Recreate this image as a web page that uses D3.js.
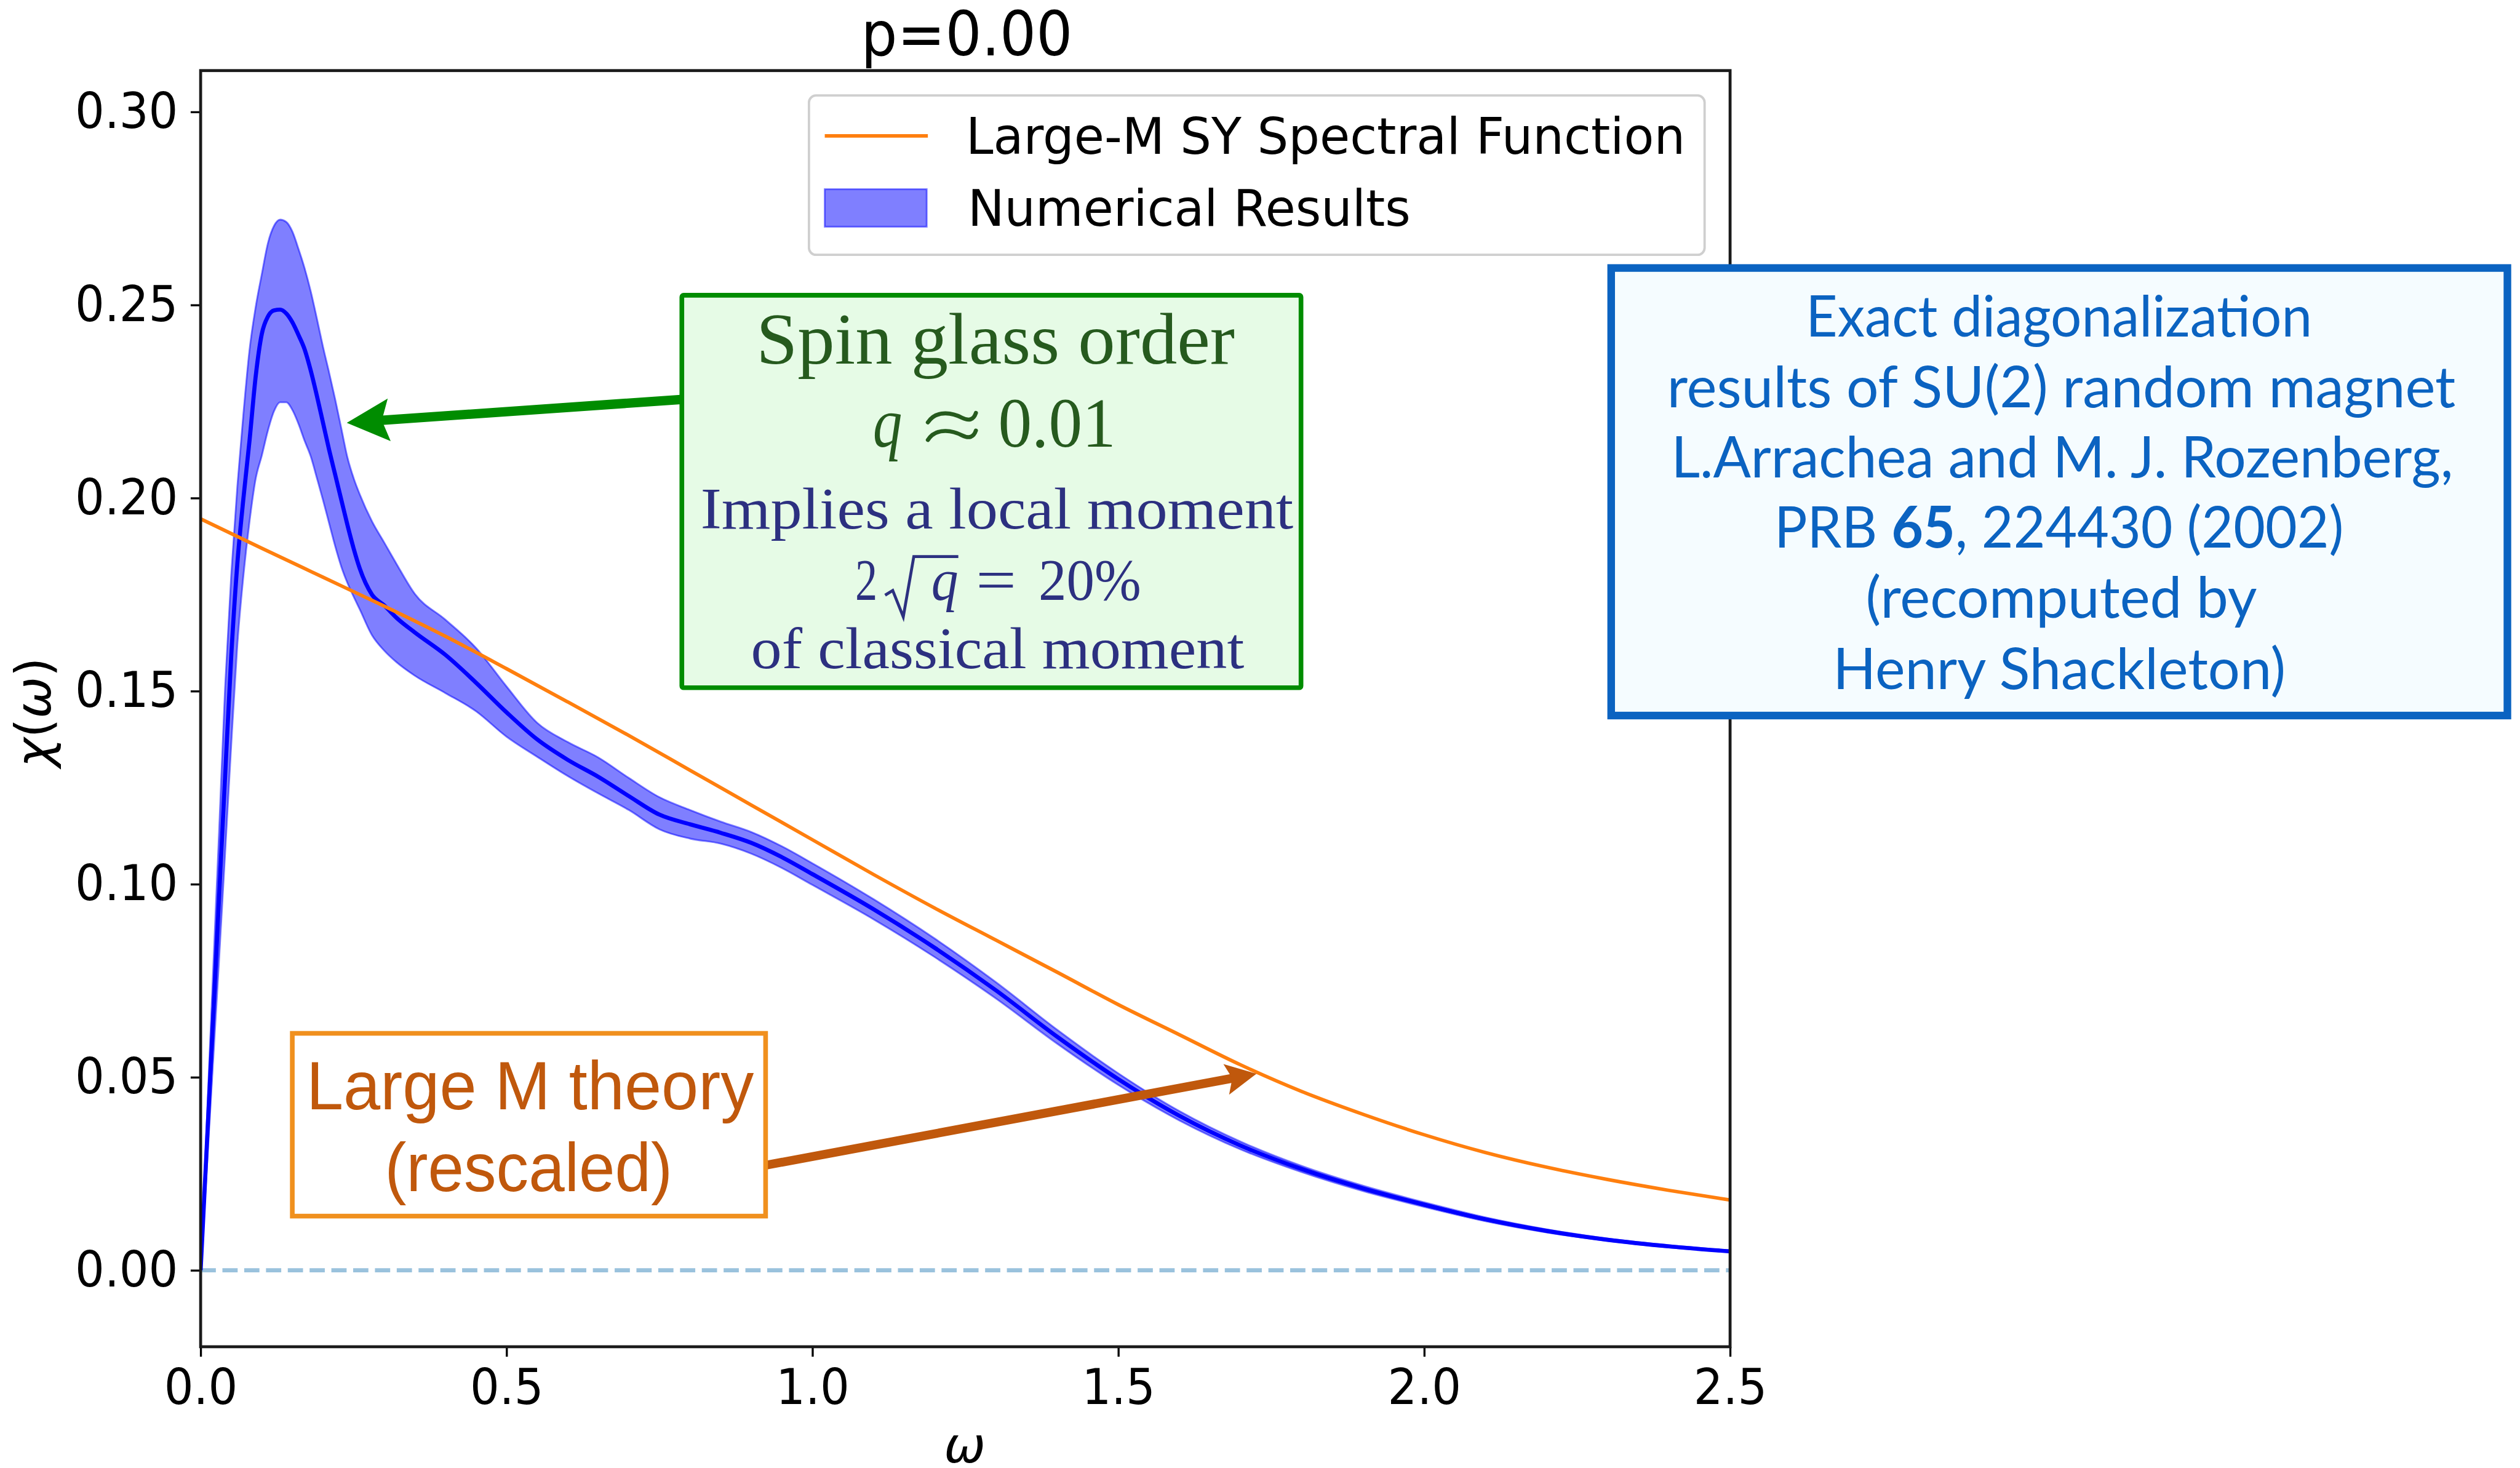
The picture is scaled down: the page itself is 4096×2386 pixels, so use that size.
<!DOCTYPE html>
<html>
<head>
<meta charset="utf-8">
<script src="https://cdn.jsdelivr.net/npm/d3@7"></script>
<style>
  html, body { margin: 0; padding: 0; background: #fff; overflow: hidden; }
</style>
</head>
<body>
<svg id="fig" width="4096" height="2386" viewBox="0 0 4302 2506"></svg>
<script>
// ---- data -------------------------------------------------------------
// frequency grid of the exact-diagonalization result
const omega = [0, 0.01, 0.02, 0.03, 0.04, 0.05, 0.06, 0.07, 0.08, 0.09,
  0.10, 0.11, 0.12, 0.13, 0.14, 0.15, 0.16, 0.17, 0.18, 0.19,
  0.20, 0.21, 0.22, 0.23, 0.24, 0.25, 0.26, 0.28, 0.30, 0.32,
  0.35, 0.40, 0.45, 0.50, 0.55, 0.60, 0.65, 0.70, 0.75, 0.80,
  0.85, 0.90, 0.95, 1.00, 1.10, 1.20, 1.30, 1.40, 1.50, 1.60,
  1.70, 1.80, 1.90, 2.00, 2.10, 2.20, 2.30, 2.40, 2.50];
// disorder-averaged chi(omega)
const chiMean = [0, 0.032, 0.064, 0.096, 0.128, 0.159, 0.183, 0.200, 0.215, 0.2315,
  0.2425, 0.2470, 0.2486, 0.2488, 0.2478, 0.2455, 0.2422, 0.2385, 0.2330, 0.2265,
  0.2195, 0.2125, 0.2060, 0.1995, 0.1930, 0.1870, 0.1818, 0.1750, 0.1722, 0.1690,
  0.1652, 0.1594, 0.1522, 0.1445, 0.1375, 0.1322, 0.1278, 0.1228, 0.1180, 0.1155,
  0.1133, 0.1107, 0.1070, 0.1026, 0.0935, 0.0835, 0.0725, 0.0605, 0.0495, 0.0400,
  0.0323, 0.0262, 0.0212, 0.0170, 0.0132, 0.0102, 0.0079, 0.0062, 0.0049];
// lower and upper edges of the error band
const chiLow = [0, 0.026, 0.053, 0.080, 0.108, 0.136, 0.162, 0.180, 0.194, 0.205,
  0.2110, 0.2175, 0.2225, 0.2248, 0.2248, 0.2228, 0.2192, 0.2148, 0.2108, 0.2052,
  0.1995, 0.1935, 0.1875, 0.1822, 0.1780, 0.1745, 0.1712, 0.1645, 0.1605, 0.1575,
  0.1540, 0.1495, 0.1448, 0.1382, 0.1330, 0.1280, 0.1235, 0.1192, 0.1142, 0.1118,
  0.1105, 0.1079, 0.1042, 0.0998, 0.0909, 0.0811, 0.0704, 0.0587, 0.0480, 0.0388,
  0.0313, 0.0254, 0.0205, 0.0164, 0.0127, 0.0098, 0.0076, 0.0059, 0.0047];
const chiHigh = [0, 0.038, 0.076, 0.113, 0.151, 0.180, 0.203, 0.222, 0.2385, 0.2495,
  0.2580, 0.2660, 0.2705, 0.2721, 0.2715, 0.2690, 0.2645, 0.2595, 0.2535, 0.2465,
  0.2392, 0.2325, 0.2255, 0.2180, 0.2105, 0.2052, 0.2010, 0.1940, 0.1885, 0.1830,
  0.1752, 0.1685, 0.1612, 0.1512, 0.1418, 0.1368, 0.1328, 0.1275, 0.1225, 0.1192,
  0.1162, 0.1135, 0.1098, 0.1054, 0.0961, 0.0859, 0.0746, 0.0623, 0.0510, 0.0412,
  0.0333, 0.0270, 0.0219, 0.0176, 0.0137, 0.0106, 0.0082, 0.0065, 0.0051];
// large-M Sachdev-Ye spectral function (rescaled)
const omegaTheory = [0, 0.1, 0.2, 0.3, 0.4, 0.5, 0.6, 0.7, 0.8, 0.9, 1.0, 1.1, 1.2,
  1.3, 1.4, 1.5, 1.6, 1.7, 1.8, 1.9, 2.0, 2.1, 2.2, 2.3, 2.4, 2.5];
const chiTheory = [0.1946, 0.1870, 0.1795, 0.1720, 0.1642, 0.1558, 0.1472, 0.1385, 0.1295,
  0.1205, 0.1115, 0.1025, 0.0938, 0.0855, 0.0772, 0.0688, 0.0610, 0.0532, 0.0463,
  0.0404, 0.0351, 0.0305, 0.0267, 0.0235, 0.0207, 0.0182];

const xTicks = [0, 0.5, 1.0, 1.5, 2.0, 2.5];
const xTickLabels = ["0.0", "0.5", "1.0", "1.5", "2.0", "2.5"];
const yTicks = [0, 0.05, 0.10, 0.15, 0.20, 0.25, 0.30];
const yTickLabels = ["0.00", "0.05", "0.10", "0.15", "0.20", "0.25", "0.30"];
const seriesNames = ["Large-M SY Spectral Function", "Numerical Results"];
const titleText = "p=0.00";

// ---- layout -----------------------------------------------------------
const W = 4302, H = 2506;
const plotLeft = 342.5, plotRight = 2953.5, plotTop = 120.5, plotBottom = 2299;
const mplFont = "'DejaVu Sans', sans-serif";
const squeeze = 0.94;   // horizontal glyph compression of the axis texts

const svg = d3.select("#fig");
svg.append("rect").attr("width", W).attr("height", H).attr("fill", "#fff");

const x = d3.scaleLinear().domain([0, 2.5]).range([plotLeft, plotRight]);
const y = d3.scaleLinear().domain([-0.0198, 0.3107]).range([plotBottom, plotTop]);

svg.append("defs").append("clipPath").attr("id", "plotClip")
  .append("rect").attr("x", plotLeft).attr("y", plotTop)
  .attr("width", plotRight - plotLeft).attr("height", plotBottom - plotTop);

const plot = svg.append("g").attr("clip-path", "url(#plotClip)");

// dashed zero line
plot.append("line")
  .attr("x1", x(0)).attr("x2", x(2.5)).attr("y1", y(0)).attr("y2", y(0))
  .attr("stroke", "rgba(31,119,180,0.45)").attr("stroke-width", 7)
  .attr("stroke-dasharray", "26,11.2");

const rows = omega.map((w, i) => ({ w, m: chiMean[i], lo: chiLow[i], hi: chiHigh[i] }));

// error band
plot.append("path").datum(rows)
  .attr("d", d3.area().x(d => x(d.w)).y0(d => y(d.lo)).y1(d => y(d.hi)).curve(d3.curveMonotoneX))
  .attr("fill", "rgba(0,0,255,0.5)")
  .attr("stroke", "rgba(0,0,255,0.5)").attr("stroke-width", 3);

// mean curve
plot.append("path").datum(rows)
  .attr("d", d3.line().x(d => x(d.w)).y(d => y(d.m)).curve(d3.curveMonotoneX))
  .attr("fill", "none").attr("stroke", "#0000ff").attr("stroke-width", 7)
  .attr("stroke-linejoin", "round");

// theory curve
const theory = omegaTheory.map((w, i) => ({ w, v: chiTheory[i] }));
plot.append("path").datum(theory)
  .attr("d", d3.line().x(d => x(d.w)).y(d => y(d.v)).curve(d3.curveMonotoneX))
  .attr("fill", "none").attr("stroke", "#ff7f0e").attr("stroke-width", 6);

// ---- axes -------------------------------------------------------------
const xAxis = svg.append("g").attr("transform", `translate(0,${plotBottom})`)
  .call(d3.axisBottom(x).tickValues(xTicks).tickFormat((d, i) => xTickLabels[i])
    .tickSize(17).tickPadding(21));
const yAxis = svg.append("g").attr("transform", `translate(${plotLeft},0)`)
  .call(d3.axisLeft(y).tickValues(yTicks).tickFormat((d, i) => yTickLabels[i])
    .tickSize(17).tickPadding(21.5));

[xAxis, yAxis].forEach(g => {
  g.select(".domain").remove();
  g.selectAll(".tick line").attr("stroke", "#000").attr("stroke-width", 3.5);
  g.selectAll(".tick text")
    .attr("font-family", mplFont).attr("font-size", 84).attr("fill", "#000")
    .attr("transform", `scale(${squeeze},1)`);
});
yAxis.selectAll(".tick text").attr("x", -38.5 / squeeze);

// frame
svg.append("rect")
  .attr("x", plotLeft).attr("y", plotTop)
  .attr("width", plotRight - plotLeft).attr("height", plotBottom - plotTop)
  .attr("fill", "none").attr("stroke", "#1a1a1a").attr("stroke-width", 5);

// title
svg.append("text").attr("x", 1470).attr("y", 95)
  .attr("font-family", mplFont).attr("font-size", 104)
  .attr("textLength", 361).attr("lengthAdjust", "spacingAndGlyphs")
  .text(titleText);

// axis labels
const yl = svg.append("text")
  .attr("transform", "translate(86,1216) rotate(-90)")
  .attr("text-anchor", "middle")
  .attr("font-family", mplFont).attr("font-size", 85);
yl.append("tspan").attr("font-style", "italic").text("χ");
yl.append("tspan").text("(");
yl.append("tspan").attr("font-style", "italic").text("ω");
yl.append("tspan").text(")");

svg.append("text").attr("x", 1647).attr("y", 2497)
  .attr("text-anchor", "middle").attr("font-family", mplFont)
  .attr("font-size", 85).attr("font-style", "italic").text("ω");

// ---- legend -----------------------------------------------------------
const leg = svg.append("g");
leg.append("rect").attr("x", 1381).attr("y", 163).attr("width", 1529).attr("height", 272)
  .attr("rx", 12).attr("fill", "rgba(255,255,255,0.8)")
  .attr("stroke", "#cfcfcf").attr("stroke-width", 4);
leg.append("line").attr("x1", 1408).attr("x2", 1584).attr("y1", 232).attr("y2", 232)
  .attr("stroke", "#ff7f0e").attr("stroke-width", 6);
leg.append("rect").attr("x", 1408).attr("y", 323).attr("width", 174).attr("height", 64)
  .attr("fill", "rgba(0,0,255,0.5)").attr("stroke", "rgba(0,0,255,0.5)").attr("stroke-width", 3);
leg.append("text").attr("x", 1649).attr("y", 263)
  .attr("font-family", mplFont).attr("font-size", 86)
  .attr("textLength", 1228).attr("lengthAdjust", "spacingAndGlyphs")
  .text(seriesNames[0]);
leg.append("text").attr("x", 1652).attr("y", 385)
  .attr("font-family", mplFont).attr("font-size", 86)
  .attr("textLength", 756).attr("lengthAdjust", "spacingAndGlyphs")
  .text(seriesNames[1]);

// ---- annotations ------------------------------------------------------
function fitText(g, str, x0, base, len, size, family, color, opts = {}) {
  const t = g.append("text").attr("x", x0).attr("y", base)
    .attr("font-family", family).attr("font-size", size).attr("fill", color)
    .attr("textLength", len).attr("lengthAdjust", "spacingAndGlyphs");
  if (opts.italic) t.attr("font-style", "italic");
  t.text(str);
  return t;
}

function arrow(g, tail, tip, headBack, headHalf, notchBack, width, color) {
  const dx = tip[0] - tail[0], dy = tip[1] - tail[1];
  const L = Math.hypot(dx, dy), ux = dx / L, uy = dy / L, nx = -uy, ny = ux;
  const notch = [tip[0] - ux * notchBack, tip[1] - uy * notchBack];
  g.append("line").attr("x1", tail[0]).attr("y1", tail[1])
    .attr("x2", notch[0] + ux * 4).attr("y2", notch[1] + uy * 4)
    .attr("stroke", color).attr("stroke-width", width);
  const b1 = [tip[0] - ux * headBack + nx * headHalf, tip[1] - uy * headBack + ny * headHalf];
  const b2 = [tip[0] - ux * headBack - nx * headHalf, tip[1] - uy * headBack - ny * headHalf];
  g.append("path").attr("d", d3.line()([tip, b1, notch, b2]) + "Z").attr("fill", color);
}

const serif = "'Liberation Serif', 'DejaVu Serif', serif";
const green = "#008c00", darkGreen = "#265a1e", navy = "#2c3080";

// spin-glass box
const gBox = svg.append("g");
arrow(gBox, [1162, 682], [592, 721.7], 72.6, 36.5, 60, 16, green);
gBox.append("rect").attr("x", 1164).attr("y", 504).attr("width", 1057).attr("height", 670)
  .attr("rx", 3).attr("fill", "#e6fbe6").attr("stroke", green).attr("stroke-width", 8);
fitText(gBox, "Spin glass order", 1291, 621, 817, 124, serif, darkGreen);
fitText(gBox, "q", 1490, 763, 50, 120, serif, darkGreen, { italic: true });
// approximately-equal sign drawn as two waves
const wave = (yc) => `M1584,${yc + 6} C1600,${yc - 18} 1630,${yc - 8} 1642,${yc - 2} C1654,${yc + 4} 1662,${yc + 2} 1666,${yc - 10}`;
gBox.append("path").attr("d", wave(715) + " " + wave(745))
  .attr("fill", "none").attr("stroke", darkGreen).attr("stroke-width", 7)
  .attr("stroke-linecap", "round");
fitText(gBox, "0.01", 1704, 763, 201, 120, serif, darkGreen);
fitText(gBox, "Implies a local moment", 1196, 902, 1012, 100, serif, navy);
fitText(gBox, "2", 1460, 1024, 38, 100, serif, navy);
gBox.append("path").attr("d", "M1511,1016 L1524,1008 L1542,1053 L1560,950 L1636,950")
  .attr("fill", "none").attr("stroke", navy).attr("stroke-width", 5)
  .attr("stroke-linejoin", "miter");
fitText(gBox, "q", 1590, 1024, 46, 100, serif, navy, { italic: true });
fitText(gBox, "=", 1666, 1024, 69, 100, serif, navy);
fitText(gBox, "20%", 1773, 1024, 175, 100, serif, navy);
fitText(gBox, "of classical moment", 1282, 1141, 842, 100, serif, navy);

// large-M box
const rust = "#c0580c";
const oBox = svg.append("g");
arrow(oBox, [1308, 1989], [2145, 1833], 52.5, 26.5, 42, 15, rust);
oBox.append("rect").attr("x", 499).attr("y", 1764).attr("width", 808).attr("height", 312)
  .attr("fill", "#fff").attr("stroke", "#f0901e").attr("stroke-width", 8);
const sans = "'Liberation Sans', Arial, sans-serif";
fitText(oBox, "Large M theory", 523, 1894, 764, 116, sans, rust);
fitText(oBox, "(rescaled)", 657, 2033, 491, 116, sans, rust);

// reference box
const blue = "#0b63c1";
const humanist = "Lato, 'Open Sans', sans-serif";
const rBox = svg.append("g");
rBox.append("rect").attr("x", 2750.5).attr("y", 457.5).attr("width", 1530).attr("height", 764)
  .attr("fill", "#f5fcff").attr("stroke", blue).attr("stroke-width", 13);
fitText(rBox, "Exact diagonalization", 3083, 575, 864, 98, humanist, blue);
fitText(rBox, "results of SU(2) random magnet", 2846, 695, 1346, 98, humanist, blue);
fitText(rBox, "L.Arrachea and M. J. Rozenberg,", 2853, 815, 1335, 98, humanist, blue);
const prb = rBox.append("text").attr("x", 3029).attr("y", 935)
  .attr("font-family", humanist).attr("font-size", 98).attr("fill", blue)
  .attr("textLength", 972).attr("lengthAdjust", "spacingAndGlyphs");
prb.append("tspan").text("PRB ");
prb.append("tspan").attr("font-weight", "bold").text("65");
prb.append("tspan").text(", 224430 (2002)");
fitText(rBox, "(recomputed by", 3185, 1055, 668, 98, humanist, blue);
fitText(rBox, "Henry Shackleton)", 3129, 1176, 773, 98, humanist, blue);
</script>
</body>
</html>
